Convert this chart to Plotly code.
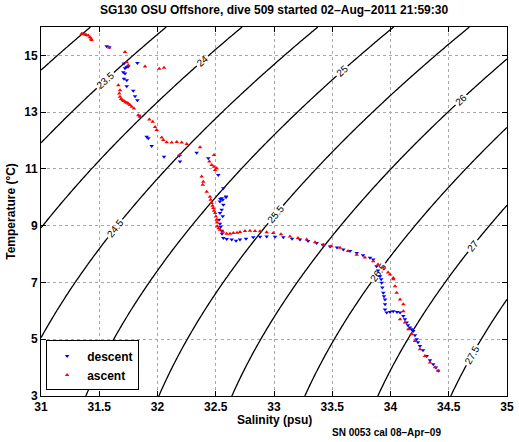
import numpy as np
import plotly.graph_objects as go

# ---- data ----
descent_S = [31.564, 31.586, 31.712, 31.736, 31.749, 31.721, 31.827, 31.706, 31.721, 31.712,
             31.736, 31.736, 31.792, 31.807, 31.827, 31.844, 31.907, 31.921, 31.950, 32.056,
             32.187, 32.193, 32.336, 32.436, 32.522, 32.565, 32.588, 32.551, 32.536, 32.565,
             32.551, 32.536, 32.560, 32.588, 32.560, 32.540,
             32.528, 32.536, 32.542, 32.551, 32.554, 32.565, 32.594, 32.637, 32.674, 32.708,
             32.760, 32.822, 32.880, 32.937, 33.009, 33.080, 33.155, 33.223, 33.292, 33.366,
             33.420, 33.481, 33.541, 33.595, 33.652, 33.710, 33.764, 33.824, 33.852,
             33.880, 33.893, 33.910, 33.920, 33.924, 33.930, 33.938, 33.944, 33.953, 33.953,
             33.953, 33.967, 33.996, 34.024, 34.056, 34.082, 34.110, 34.124, 34.139, 34.150,
             34.167, 34.180, 34.196, 34.210, 34.225, 34.236, 34.253, 34.279, 34.311, 34.339,
             34.367, 34.390, 34.410]
descent_T = [15.32, 15.29, 14.71, 14.59, 14.61, 14.55, 14.73, 14.41, 14.36, 14.18,
             14.12, 13.91, 13.75, 13.56, 13.42, 12.87, 12.13, 12.08, 11.81, 11.43,
             11.46, 11.26, 11.57, 11.38, 10.79, 10.32, 10.03, 9.97, 9.85, 9.74,
             9.56, 9.45, 9.33, 10.00, 9.91, 9.94,
             9.21, 9.07, 8.96, 8.82, 8.72, 8.57, 8.53, 8.51, 8.47, 8.51,
             8.54, 8.59, 8.61, 8.62, 8.61, 8.59, 8.54, 8.51, 8.46, 8.39,
             8.33, 8.27, 8.23, 8.16, 8.11, 8.04, 7.96, 7.87, 7.81,
             7.57, 7.42, 7.22, 7.11, 6.99, 6.82, 6.64, 6.51, 6.40, 6.23,
             6.05, 5.94, 5.96, 5.99, 5.96, 5.94, 5.82, 5.70, 5.59, 5.49,
             5.41, 5.35, 5.29, 5.14, 5.00, 4.89, 4.76, 4.61, 4.41, 4.26,
             4.12, 4.00, 3.89]

ascent_S = [31.349, 31.360, 31.378, 31.390, 31.406, 31.420, 31.430, 31.434, 31.586, 31.721,
            31.736, 31.749, 31.893, 32.015, 32.056, 31.664, 31.678,
            31.672, 31.678, 31.687, 31.700, 31.712, 31.725, 31.738, 31.751, 31.764, 31.779, 31.798,
            31.835, 31.850, 31.930, 31.959, 31.979, 31.993,
            32.036, 32.050, 32.079, 32.122, 32.165, 32.208, 32.251, 32.190, 32.365,
            32.485, 32.445, 32.465, 32.485, 32.494, 32.508,
            32.379, 32.393, 32.388, 32.422,
            32.450, 32.456, 32.465, 32.472, 32.479, 32.485, 32.494, 32.502, 32.508, 32.511,
            32.513, 32.524, 32.536, 32.562, 32.594, 32.622, 32.651, 32.683, 32.708, 32.751,
            32.794, 32.837, 32.880, 32.937, 32.994, 33.060, 33.137, 33.206, 33.281, 33.352,
            33.423, 33.490, 33.567, 33.635, 33.710, 33.780, 33.852, 33.893, 33.938, 33.979,
            34.024, 33.996, 34.024, 34.039, 34.053, 34.082, 34.110, 34.110, 34.082, 34.124,
            34.153, 34.182, 34.210, 34.253, 34.296, 34.339, 34.382, 34.410]
ascent_T = [15.76, 15.75, 15.74, 15.72, 15.70, 15.64, 15.59, 15.54, 15.28, 15.12,
            14.76, 14.65, 14.61, 14.53, 14.56, 13.95, 13.77,
            13.66, 13.54, 13.46, 13.42, 13.39, 13.35, 13.33, 13.30, 13.25, 13.19, 13.13,
            12.89, 12.84, 12.74, 12.66, 12.48, 12.37,
            12.11, 12.02, 11.94, 11.93, 11.95, 11.93, 11.88, 11.49, 11.76,
            11.49, 11.26, 11.14, 11.08, 10.96, 11.02,
            10.73, 10.55, 10.44, 10.20,
            10.02, 9.91, 9.80, 9.70, 9.62, 9.53, 9.45, 9.32, 9.21, 9.11,
            8.98, 8.91, 8.86, 8.79, 8.72, 8.72, 8.74, 8.75, 8.78, 8.81,
            8.82, 8.81, 8.80, 8.77, 8.74, 8.70, 8.62, 8.57, 8.51, 8.42,
            8.33, 8.28, 8.22, 8.11, 7.98, 7.88, 7.75, 7.63, 7.52, 7.35,
            7.16, 7.28, 7.11, 6.87, 6.64, 6.40, 6.23, 5.99, 5.70, 5.59,
            5.35, 5.18, 4.94, 4.65, 4.41, 4.18, 4.01, 3.89]

x_ticks = [31, 31.5, 32, 32.5, 33, 33.5, 34, 34.5, 35]
y_ticks = [3, 5, 7, 9, 11, 13, 15]

# ---- density (sigma-t, UNESCO EOS-80 at p=0) background field ----
Sg = np.linspace(31, 35, 121)
Tg = np.linspace(3, 16, 131)
SS, TT = np.meshgrid(Sg, Tg)
rho_w = (999.842594 + 6.793952e-2 * TT - 9.095290e-3 * TT**2 + 1.001685e-4 * TT**3
         - 1.120083e-6 * TT**4 + 6.536332e-9 * TT**5)
A = 8.24493e-1 - 4.0899e-3 * TT + 7.6438e-5 * TT**2 - 8.2467e-7 * TT**3 + 5.3875e-9 * TT**4
B = -5.72466e-3 + 1.0227e-4 * TT - 1.6546e-6 * TT**2
C = 4.8314e-4
sigma = rho_w + A * SS + B * SS**1.5 + C * SS**2 - 1000.0

font_family = "Liberation Sans, Arial, sans-serif"

fig = go.Figure()
fig.add_trace(go.Contour(
    x=Sg, y=Tg, z=sigma,
    contours=dict(start=23, end=27.5, size=0.5, coloring='lines', showlabels=True,
                  labelfont=dict(size=10, color='black', family=font_family)),
    colorscale=[[0, 'black'], [1, 'black']],
    line=dict(width=1.3, color='black', smoothing=1),
    showscale=False, showlegend=False, hoverinfo='skip'))

fig.add_trace(go.Scatter(
    x=descent_S, y=descent_T, mode='markers', name='descent',
    marker=dict(symbol='triangle-down', size=4, color='#0000ff', line=dict(width=0))))
fig.add_trace(go.Scatter(
    x=ascent_S, y=ascent_T, mode='markers', name='ascent',
    marker=dict(symbol='triangle-up', size=4, color='#ff0000', line=dict(width=0))))

fig.update_layout(
    width=519, height=442, autosize=False,
    margin=dict(l=41, r=12, t=27, b=46, autoexpand=False),
    paper_bgcolor='white', plot_bgcolor='white',
    font=dict(family=font_family, color='black', size=12),
    title=dict(text='SG130 OSU Offshore, dive 509 started 02\u2013Aug\u20132011 21:59:30',
               x=0.528, xanchor='center', y=0.977, yanchor='middle',
               font=dict(size=12, weight='bold', family=font_family)),
    xaxis=dict(range=[31, 35], tickvals=x_ticks, ticktext=[str(v) for v in x_ticks],
               showgrid=True, gridcolor='#a8a8a8', griddash='dot', gridwidth=1,
               showline=True, linecolor='black', linewidth=1, mirror='ticks',
               ticks='inside', ticklen=5, tickcolor='black', automargin=False,
               tickfont=dict(size=12, weight='bold'), zeroline=False),
    yaxis=dict(range=[3, 16], tickvals=y_ticks, ticktext=[str(v) for v in y_ticks],
               showgrid=True, gridcolor='#a8a8a8', griddash='dot', gridwidth=1,
               showline=True, linecolor='black', linewidth=1, mirror='ticks',
               ticks='inside', ticklen=5, tickcolor='black', automargin=False,
               tickfont=dict(size=12, weight='bold'), zeroline=False),
    legend=dict(x=0.011, y=0.015, xanchor='left', yanchor='bottom',
                bgcolor='white', bordercolor='black', borderwidth=1,
                font=dict(size=12, weight='bold'), itemsizing='trace',
                tracegroupgap=0),
    annotations=[
        dict(text='Salinity (psu)', xref='paper', yref='paper', x=0.5, y=-0.064,
             xanchor='center', yanchor='middle', showarrow=False,
             font=dict(size=12, weight='bold')),
        dict(text='Temperature (\u00b0C)', xref='paper', yref='paper', x=-0.066, y=0.5,
             xanchor='center', yanchor='middle', textangle=-90, showarrow=False,
             font=dict(size=12, weight='bold')),
        dict(text='SN 0053 cal 08\u2013Apr\u201309', xref='paper', yref='paper',
             x=0.62, y=-0.1, xanchor='left', yanchor='middle', showarrow=False,
             font=dict(size=10, weight='bold'))],
)

fig.write_html("out.html", config={'displayModeBar': False, 'responsive': False},
               post_script="document.body.style.margin='0';document.body.style.overflow='hidden';")
